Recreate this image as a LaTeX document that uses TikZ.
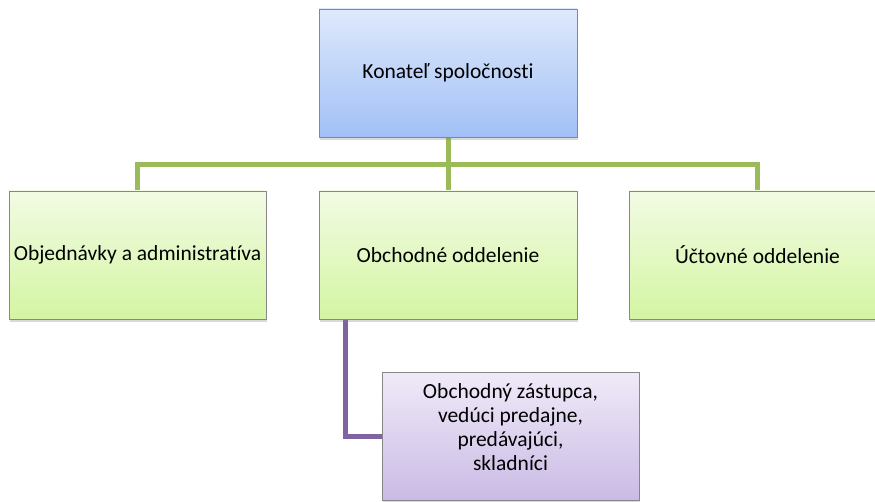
\documentclass[tikz,border=0pt]{standalone}
\usepackage{fontspec}
\setmainfont{Carlito}[Ligatures=NoCommon]
\usetikzlibrary{shadows,backgrounds}
\definecolor{blueTop}{RGB}{222,233,252}
\definecolor{blueBot}{RGB}{162,192,246}
\definecolor{greenTop}{RGB}{242,251,228}
\definecolor{greenBot}{RGB}{212,245,162}
\definecolor{lilacTop}{RGB}{240,234,248}
\definecolor{lilacBot}{RGB}{202,187,229}
\definecolor{greenLine}{RGB}{155,187,89}
\definecolor{lilacLine}{RGB}{128,100,162}
\definecolor{boxEdge}{RGB}{135,135,135}
\tikzset{
  orgbox/.style={draw=boxEdge, line width=0.9pt, minimum width=258pt, minimum height=128pt,
    inner sep=0pt, align=center, drop shadow={shadow xshift=1pt, shadow yshift=-3pt, opacity=0.3}},
  bossbox/.style={orgbox, top color=blueTop, bottom color=blueBot},
  deptbox/.style={orgbox, top color=greenTop, bottom color=greenBot},
  staffbox/.style={orgbox, top color=lilacTop, bottom color=lilacBot},
  greenlink/.style={draw=greenLine, line width=5pt},
  lilaclink/.style={draw=lilacLine, line width=5pt}
}
\begin{document}
\begin{tikzpicture}[x=1pt,y=-1pt, line join=round, font=\fontsize{21.5}{24}\selectfont]
        \useasboundingbox (0,0) rectangle (875,502);
        \clip (0,0) rectangle (875,502);
        \node[bossbox] (boss) at (448,73) {Konateľ spoločnosti};
        \node[deptbox, minimum width=257pt] (orders) at (137.5,255) {Objednávky a administratíva};
        \node[deptbox] (sales) at (448,255) {Obchodné oddelenie};
        \node[deptbox, minimum width=257pt] (account) at (757.5,255) {Účtovné oddelenie};
        \node[staffbox, minimum width=257pt] (staff) at (510.5,436) {\parbox[t][118pt][t]{250pt}{\centering
                \vspace{7pt}Obchodný zástupca,\\vedúci predajne,\\predávajúci,\\skladníci}};
        \coordinate (bar) at (448,165);
        \coordinate (hook) at (345,319);
        \begin{scope}[on background layer]
                \draw[greenlink] (boss.south) -- (sales.north);
                \draw[greenlink] (orders.north) |- (bar) -| (account.north);
                \draw[lilaclink] (hook) |- (staff.west);
        \end{scope}
\end{tikzpicture}
\end{document}
